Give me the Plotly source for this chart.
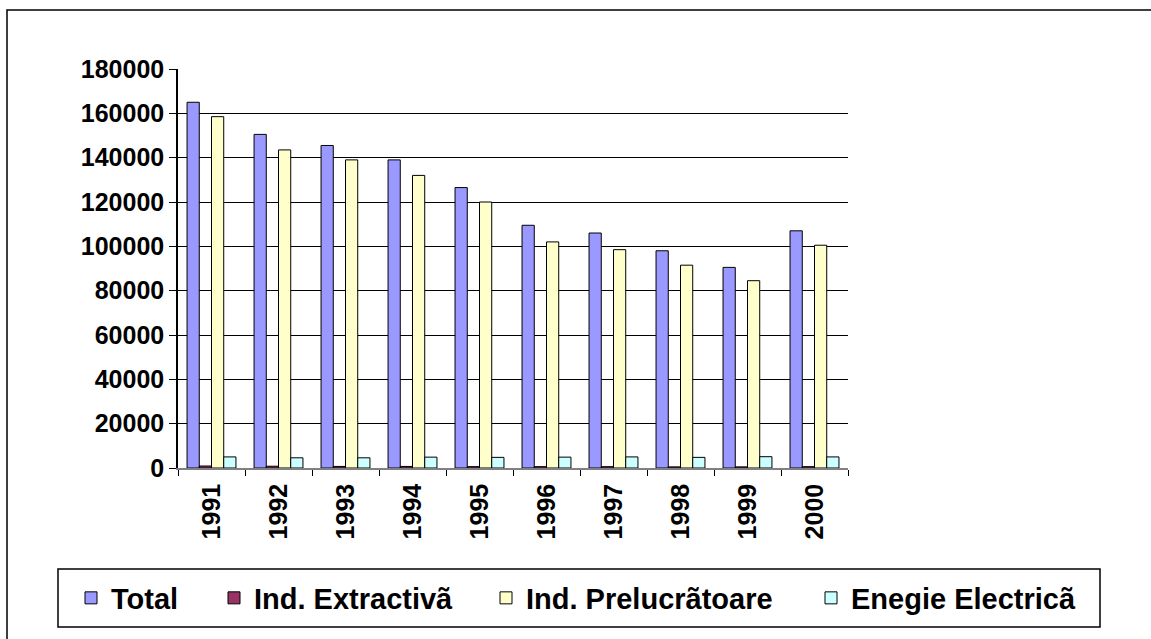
import plotly.graph_objects as go

years = ["1991", "1992", "1993", "1994", "1995", "1996", "1997", "1998", "1999", "2000"]
total = [165000, 150500, 145500, 139000, 126500, 109500, 106000, 98000, 90500, 107000]
extractiva = [900, 800, 700, 700, 600, 600, 600, 500, 500, 600]
prelucratoare = [158500, 143500, 139000, 132000, 120000, 102000, 98500, 91500, 84500, 100500]
energie = [5000, 4600, 4600, 4900, 4800, 4900, 5000, 4800, 5100, 5000]

series_names = ["Total", "Ind. Extractivã", "Ind. Prelucrãtoare", "Enegie Electricã"]
series_values = [total, extractiva, prelucratoare, energie]
series_colors = ["#9999FF", "#993366", "#FFFFCC", "#CCFFFF"]
legend_ids = ["legend", "legend2", "legend3", "legend4"]
legend_starts = [71, 214, 486, 811]  # px of each legend entry start

W, H = 1151, 639
L, R, T, B = 178, 848, 69, 468
pw, ph = R - L, B - T

def px(x):
    return (x - L) / pw

def py(y):
    return (B - y) / ph

FONT = "Liberation Sans, Arial, sans-serif"

fig = go.Figure()
for name, vals, col, lid in zip(series_names, series_values, series_colors, legend_ids):
    fig.add_trace(go.Bar(
        x=years, y=vals, name=name,
        marker=dict(color=col, line=dict(color="black", width=1)),
        legend=lid,
    ))

legend_layout = {}
for lid, xs in zip(legend_ids, legend_starts):
    legend_layout[lid] = dict(
        orientation="h", x=px(xs), xanchor="left", y=py(598), yanchor="middle",
        bgcolor="rgba(0,0,0,0)", borderwidth=0,
        font=dict(family=FONT, size=29, weight=700, color="black"),
    )

fig.update_layout(
    width=W, height=H,
    margin=dict(l=L, r=W - R, t=T, b=H - B, autoexpand=False),
    paper_bgcolor="white", plot_bgcolor="white",
    barmode="group", bargap=0.27, bargroupgap=0,
    font=dict(family=FONT, color="black"),
    showlegend=True,
    **legend_layout,
    xaxis=dict(
        type="category", tickangle=-90, ticks="outside", ticklen=6, tickwidth=1,
        tickcolor="black", tickson="boundaries", showline=True, linecolor="#808080",
        linewidth=1.5, showgrid=False, ticklabelstandoff=4,
        tickfont=dict(family=FONT, size=25, weight=700, color="black"),
    ),
    yaxis=dict(
        range=[0, 180000], dtick=20000, tick0=0, ticks="outside", ticklen=7,
        tickwidth=1, tickcolor="black", showline=True, linecolor="black", linewidth=1.5,
        showgrid=True, gridcolor="black", gridwidth=1, zeroline=False,
        tickformat="d",
        tickfont=dict(family=FONT, size=25, weight=700, color="black"),
    ),
    shapes=[
        dict(type="rect", xref="paper", yref="paper",
             x0=px(58), x1=px(1100), y0=py(627), y1=py(569),
             line=dict(color="black", width=1.5), fillcolor="rgba(0,0,0,0)", layer="above"),
        dict(type="rect", xref="paper", yref="paper",
             x0=px(7), x1=px(1170), y0=py(660), y1=py(10),
             line=dict(color="black", width=1.5), fillcolor="rgba(0,0,0,0)", layer="above"),
    ],
)

fig.write_html("out.html", config={"displayModeBar": False},
               post_script="document.body.style.margin='0px';")
